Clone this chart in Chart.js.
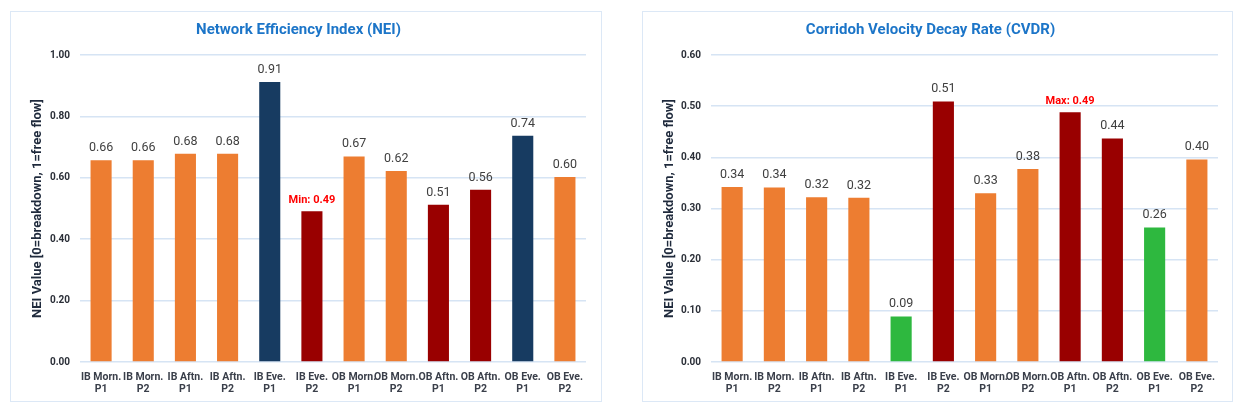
<!DOCTYPE html>
<html>
<head>
<meta charset="utf-8">
<script src="https://cdn.jsdelivr.net/npm/chart.js@4.4.1/dist/chart.umd.min.js"></script>
<style>
  html, body { margin: 0; padding: 0; background: #ffffff; }
  body { width: 1242px; height: 412px; position: relative; overflow: hidden; }
  .card { position: absolute; top: 11px; height: 391px; box-sizing: border-box; border: 1.5px solid #dce8f6; background: #fff; }
  .card canvas { display: block; }
  #c1 { left: 10px; width: 592px; }
  #c2 { left: 642px; width: 591px; }
</style>
</head>
<body>
<div class="card" id="c1"><canvas id="nei"></canvas></div>
<div class="card" id="c2"><canvas id="cvdr"></canvas></div>
<script>
// ---- Data ----
const categories = [
  ["IB Morn.", "P1"], ["IB Morn.", "P2"], ["IB Aftn.", "P1"], ["IB Aftn.", "P2"],
  ["IB Eve.", "P1"], ["IB Eve.", "P2"], ["OB Morn.", "P1"], ["OB Morn.", "P2"],
  ["OB Aftn.", "P1"], ["OB Aftn.", "P2"], ["OB Eve.", "P1"], ["OB Eve.", "P2"]
];
const neiValues  = [0.657, 0.657, 0.678, 0.678, 0.912, 0.491, 0.669, 0.622, 0.512, 0.561, 0.737, 0.603];
const neiColors  = ["orange","orange","orange","orange","navy","red","orange","orange","red","red","navy","orange"];
const neiCalloutIndex = 5;
const neiCalloutText = "Min: 0.49";
const neiTicks = [0, 0.2, 0.4, 0.6, 0.8, 1.0];

const cvdrValues = [0.342, 0.341, 0.322, 0.321, 0.089, 0.509, 0.330, 0.377, 0.488, 0.437, 0.263, 0.396];
const cvdrColors = ["orange","orange","orange","orange","green","red","orange","orange","red","red","green","orange"];
const cvdrCalloutIndex = 8;
const cvdrCalloutText = "Max: 0.49";
const cvdrTicks = [0, 0.1, 0.2, 0.3, 0.4, 0.5, 0.6];

const neiTitle = "Network Efficiency Index (NEI)";
const cvdrTitle = "Corridoh Velocity Decay Rate (CVDR)";
const yAxisTitle = "NEI Value [0=breakdown, 1=free flow]";

// ---- Styles ----
const palette = { orange: "#ED7D31", navy: "#173B61", red: "#990000", green: "#2EB83F" };
const FONT = "Roboto, 'Liberation Sans', sans-serif";

function labelPlugin(calloutIndex, calloutText) {
  return {
    id: 'barLabels',
    afterDatasetsDraw(chart) {
      const ctx = chart.ctx;
      const meta = chart.getDatasetMeta(0);
      const data = chart.data.datasets[0].data;
      ctx.save();
      ctx.textAlign = 'center';
      ctx.textBaseline = 'bottom';
      meta.data.forEach((bar, i) => {
        if (i === calloutIndex) {
          ctx.font = "bold 11px " + FONT;
          ctx.fillStyle = "#FF0000";
          ctx.fillText(calloutText, bar.x, bar.y - 6);
        } else {
          ctx.font = "12.5px " + FONT;
          ctx.fillStyle = "#404040";
          ctx.fillText(data[i].toFixed(2), bar.x, bar.y - 6);
        }
      });
      ctx.restore();
    }
  };
}

function makeChart(id, title, values, colors, ticks, calloutIndex, calloutText, yLeft, padRight) {
  const ctx = document.getElementById(id);
  return new Chart(ctx, {
    type: 'bar',
    data: {
      labels: categories,
      datasets: [{
        data: values,
        backgroundColor: colors.map(c => palette[c]),
        borderWidth: 0,
        barPercentage: 0.5,
        categoryPercentage: 1.0
      }]
    },
    options: {
      responsive: true,
      maintainAspectRatio: false,
      animation: false,
      devicePixelRatio: 1,
      layout: { padding: { left: 0, right: padRight, top: 0, bottom: 0 } },
      plugins: {
        legend: { display: false },
        tooltip: { enabled: false },
        title: {
          display: true,
          text: title,
          color: "#1C75C8",
          font: { family: FONT, size: 15, weight: 'bold' },
          padding: { top: 9, bottom: 16 }
        }
      },
      scales: {
        x: {
          grid: { display: false, drawTicks: false },
          border: { display: false },
          ticks: {
            color: "#3a3f4a",
            font: { family: FONT, size: 10.5, weight: 'bold', lineHeight: 1.1 },
            maxRotation: 0, minRotation: 0, autoSkip: false,
            padding: 10
          },
          afterFit(scale) { scale.height = 39; }
        },
        y: {
          min: 0,
          max: ticks[ticks.length - 1],
          afterBuildTicks(scale) { scale.ticks = ticks.map(v => ({ value: v })); },
          grid: { color: "#d6e4f4", lineWidth: 1.5, drawTicks: false },
          border: { display: false },
          ticks: {
            color: "#2b2f38",
            font: { family: FONT, size: 10, weight: 'bold' },
            padding: 10,
            callback: v => Number(v).toFixed(2)
          },
          title: {
            display: true,
            text: yAxisTitle,
            color: "#1f2a3c",
            font: { family: FONT, size: 13, weight: 'bold' },
            padding: { top: 19, bottom: 0 }
          },
          afterFit(scale) { scale.width = yLeft; }
        }
      }
    },
    plugins: [labelPlugin(calloutIndex, calloutText)]
  });
}

makeChart('nei', neiTitle, neiValues, neiColors, neiTicks, neiCalloutIndex, neiCalloutText, 69, 15);
makeChart('cvdr', cvdrTitle, cvdrValues, cvdrColors, cvdrTicks, cvdrCalloutIndex, cvdrCalloutText, 68, 14);
</script>
</body>
</html>
